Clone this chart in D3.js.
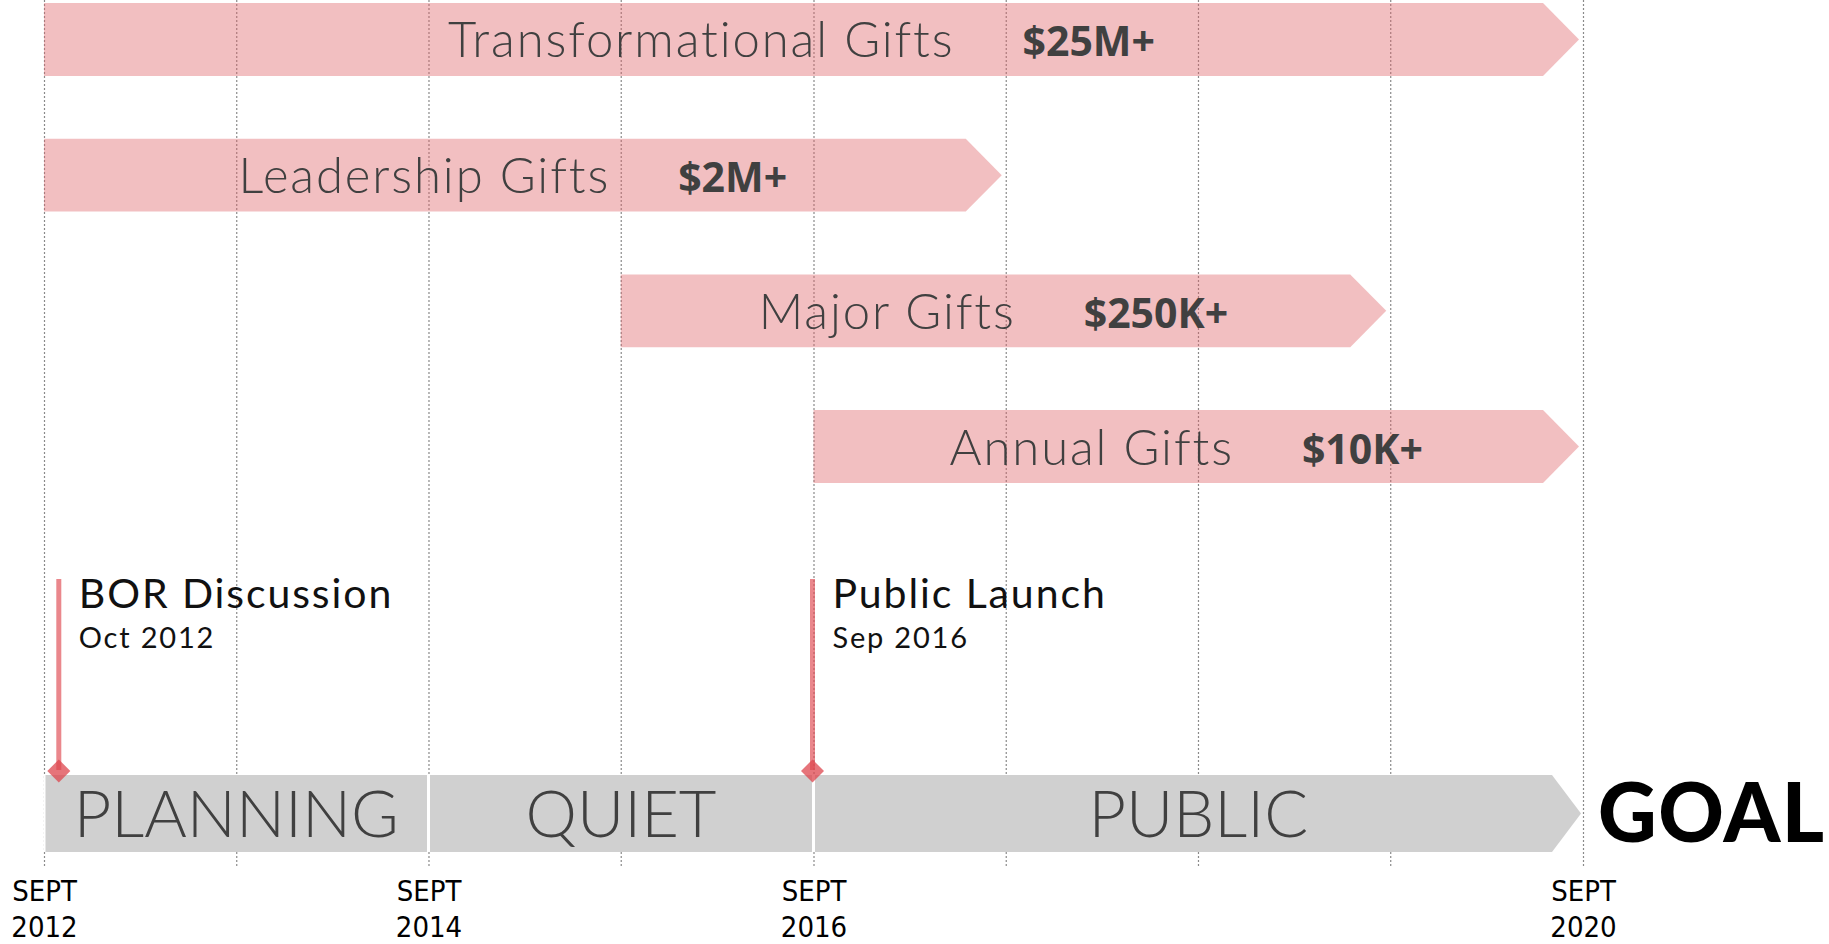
<!DOCTYPE html>
<html>
<head>
<meta charset="utf-8">
<script src="https://cdn.jsdelivr.net/npm/d3@7"></script>
<style>
  html, body { margin: 0; padding: 0; background: #fff; }
  svg { display: block; }
</style>
</head>
<body>
<div id="chart"></div>
<script>
/* ---------- data ---------- */
const giftNames = ['Transformational Gifts', 'Leadership Gifts', 'Major Gifts', 'Annual Gifts'];
const giftLevels = ['$25M+', '$2M+', '$250K+', '$10K+'];
const giftStarts = ['2012-09', '2012-09', '2015-09', '2016-09'];
const giftEnds = ['2020-09', '2017-09', '2019-09', '2020-09'];

const phaseNames = ['PLANNING', 'QUIET', 'PUBLIC'];
const phaseStarts = ['2012-09', '2014-09', '2016-09'];
const phaseEnds = ['2014-09', '2016-09', '2020-09'];

const milestoneNames = ['BOR Discussion', 'Public Launch'];
const milestoneDates = ['2012-10', '2016-09'];
const milestoneLabels = ['Oct 2012', 'Sep 2016'];

const gridDates = ['2012-09', '2013-09', '2014-09', '2015-09', '2016-09', '2017-09', '2018-09', '2019-09', '2020-09'];
const tickDates = ['2012-09', '2014-09', '2016-09', '2020-09'];
const tickMonths = ['SEPT', 'SEPT', 'SEPT', 'SEPT'];
const tickYears = ['2012', '2014', '2016', '2020'];

const goalLabel = 'GOAL';

/* ---------- setup ---------- */
const W = 1829, H = 944;
const parse = d3.timeParse('%Y-%m');

const labelFont = "'Century Gothic', Lato, sans-serif";
const valueFont = "'Open Sans', Calibri, sans-serif";
const tickFont = "'Liberation Sans Narrow', 'DejaVu Sans Condensed', sans-serif";

const svg = d3.select('#chart')
  .append('svg')
  .attr('width', W)
  .attr('height', H);

svg.append('rect').attr('width', W).attr('height', H).attr('fill', '#fff');

const x = d3.scaleTime()
  .domain([parse('2012-09'), parse('2020-09')])
  .range([44, 1583]);

const y = d3.scaleBand()
  .domain(giftNames)
  .range([3, 483])
  .paddingInner(0.463)
  .paddingOuter(0);

const phaseTop = 775;
const phaseH = 77;

function arrowPath(x0, tip, y0, h, depth) {
  const p = d3.path();
  p.moveTo(x0, y0);
  p.lineTo(tip - depth, y0);
  p.lineTo(tip, y0 + h / 2);
  p.lineTo(tip - depth, y0 + h);
  p.lineTo(x0, y0 + h);
  p.closePath();
  return p.toString();
}

/* ---------- grid ---------- */
const grid = svg.append('g')
  .call(d3.axisBottom(x)
    .tickValues(gridDates.map(parse))
    .tickSize(868)
    .tickFormat(''));
grid.select('.domain').remove();
grid.selectAll('.tick line')
  .attr('stroke', '#8a8a8a')
  .attr('stroke-width', 1.2)
  .attr('stroke-dasharray', '2,2');

/* ---------- gift bars ---------- */
const gifts = giftNames.map((name, i) => ({
  name,
  level: giftLevels[i],
  start: parse(giftStarts[i]),
  end: parse(giftEnds[i])
}));

const giftG = svg.append('g');
giftG.selectAll('path')
  .data(gifts)
  .enter()
  .append('path')
  .attr('d', d => arrowPath(x(d.start), x(d.end) - 4, y(d.name), y.bandwidth(), 36))
  .attr('fill', 'rgba(222,95,100,0.4)');

gifts.forEach(d => {
  const cy = y(d.name) + y.bandwidth() / 2;
  const g = giftG.append('g');
  const name = g.append('text')
    .attr('y', cy + 18)
    .attr('font-family', labelFont)
    .attr('font-weight', 300)
    .attr('font-size', 49)
    .attr('letter-spacing', 1.9)
    .attr('fill', '#404040')
    .text(d.name);
  const lvl = g.append('text')
    .attr('y', cy + 17)
    .attr('font-family', valueFont)
    .attr('font-weight', 700)
    .attr('font-size', 41)
    .attr('fill', '#404040')
    .text(d.level);
  const gap = 68;
  const lw = name.node().getComputedTextLength();
  const vw = lvl.node().getComputedTextLength();
  const center = (x(d.start) + x(d.end) - 4) / 2 - 10;
  const left = center - (lw + gap + vw) / 2;
  name.attr('x', left);
  lvl.attr('x', left + lw + gap);
});

/* ---------- phases ---------- */
const phases = phaseNames.map((name, i) => ({
  name,
  start: parse(phaseStarts[i]),
  end: parse(phaseEnds[i]),
  last: i === phaseNames.length - 1
}));

const phaseG = svg.append('g');
// white under-layer so the grid does not show through the gaps
phaseG.append('path')
  .attr('d', arrowPath(x(phases[0].start), x(phases[phases.length - 1].end) - 2, phaseTop, phaseH, 29))
  .attr('fill', '#fff');

phaseG.selectAll('path.seg')
  .data(phases)
  .enter()
  .append('path')
  .attr('class', 'seg')
  .attr('d', d => {
    const x0 = x(d.start) + 1.5;
    if (d.last) return arrowPath(x0, x(d.end) - 2, phaseTop, phaseH, 29);
    const x1 = x(d.end) - 1.5;
    return `M${x0},${phaseTop}H${x1}V${phaseTop + phaseH}H${x0}Z`;
  })
  .attr('fill', '#d0d0d0');

phaseG.selectAll('text')
  .data(phases)
  .enter()
  .append('text')
  .attr('x', d => (x(d.start) + x(d.end)) / 2)
  .attr('y', phaseTop + 62)
  .attr('text-anchor', 'middle')
  .attr('font-family', labelFont)
  .attr('font-weight', 300)
  .attr('font-size', 65)
  .attr('fill', '#404040')
  .text(d => d.name);

svg.append('text')
  .attr('x', 1598)
  .attr('y', 842)
  .attr('font-family', labelFont)
  .attr('font-weight', 900)
  .attr('font-size', 81)
  .attr('letter-spacing', 1.5)
  .attr('fill', '#000')
  .text(goalLabel);

/* ---------- milestones ---------- */
const milestones = milestoneNames.map((name, i) => ({
  name,
  date: parse(milestoneDates[i]),
  label: milestoneLabels[i]
}));

const msG = svg.append('g');
milestones.forEach(d => {
  const mx = x(d.date) - 1;
  msG.append('line')
    .attr('x1', mx).attr('x2', mx)
    .attr('y1', 579).attr('y2', 770)
    .attr('stroke', 'rgba(222,70,78,0.65)')
    .attr('stroke-width', 5);
  msG.append('path')
    .attr('d', d3.symbol(d3.symbolDiamond2, 26 * 26 / 2)())
    .attr('transform', `translate(${mx},771)`)
    .attr('fill', 'rgba(222,70,78,0.75)');
  msG.append('text')
    .attr('x', mx + 20)
    .attr('y', 608)
    .attr('font-family', labelFont)
    .attr('font-size', 41)
    .attr('letter-spacing', 1.9)
    .attr('fill', '#111')
    .text(d.name);
  msG.append('text')
    .attr('x', mx + 20)
    .attr('y', 648)
    .attr('font-family', labelFont)
    .attr('font-size', 29)
    .attr('letter-spacing', 1.8)
    .attr('fill', '#111')
    .text(d.label);
});

/* ---------- bottom ticks ---------- */
const axis = svg.append('g')
  .attr('transform', 'translate(0,868)')
  .call(d3.axisBottom(x)
    .tickValues(tickDates.map(parse))
    .tickSize(0)
    .tickFormat(''));
axis.select('.domain').remove();
axis.selectAll('.tick').each(function (dd, i) {
  const t = d3.select(this).append('text')
    .attr('text-anchor', 'middle')
    .attr('font-family', tickFont)
    .attr('font-size', 29)
    .attr('fill', '#000');
  t.append('tspan').attr('x', 0).attr('y', 33).text(tickMonths[i]);
  t.append('tspan').attr('x', 0).attr('y', 69).text(tickYears[i]);
});
</script>
</body>
</html>
